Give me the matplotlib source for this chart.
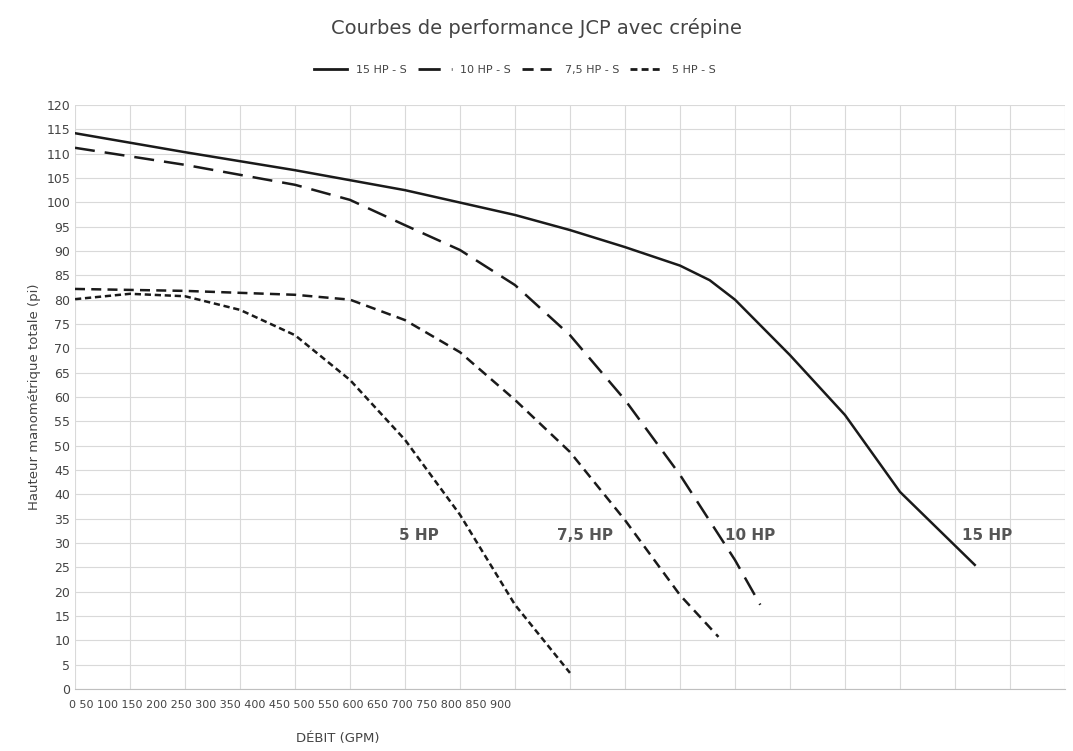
import matplotlib
matplotlib.use("Agg")
import matplotlib.pyplot as plt
from matplotlib.lines import Line2D

x15 = [0, 100, 200, 300, 400, 450, 500, 550, 577, 600, 650, 700, 750, 818]
y15 = [114.2, 110.3, 106.6, 102.5, 97.4, 94.3, 90.8, 87, 84, 80, 68.6, 56.3, 40.5, 25.5]
x10 = [0, 100, 200, 250, 300, 350, 400, 450, 500, 550, 600, 623]
y10 = [111.2, 107.7, 103.6, 100.5, 95.3, 90.2, 83, 72.7, 59.4, 44, 26.5, 17.3]
x75 = [0, 100, 200, 250, 300, 350, 400, 450, 500, 550, 585]
y75 = [82.2, 81.8, 81, 80, 75.8, 69.2, 59.4, 48.7, 34.7, 19.3, 10.7]
x5 = [0, 50, 100, 150, 200, 250, 300, 350, 400, 450]
y5 = [80.1, 81.2, 80.7, 77.9, 72.7, 63.5, 51.2, 35.8, 17.3, 3.3]
series_labels = ["15 HP - S", "10 HP - S", "7,5 HP - S", "5 HP - S"]
curve_names = ["15 HP", "10 HP", "7,5 HP", "5 HP"]
xtick_text = "0 50 100 150 200 250 300 350 400 450 500 550 600 650 700 750 800 850 900"

fig = plt.figure(figsize=(10.73, 7.51), dpi=100)
ax = fig.add_axes([0.0699, 0.0826, 0.9226, 0.7776])
c = "#1a1a1a"
ax.plot(x15, y15, color=c, lw=1.8, ls="-")
ax.plot(x10, y10, color=c, lw=1.8, dashes=(8, 4))
ax.plot(x75, y75, color=c, lw=1.8, dashes=(4, 2.5))
ax.plot(x5, y5, color=c, lw=1.8, dashes=(2.5, 1.5))

ax.set_xlim(0, 900)
ax.set_ylim(0, 120)
ax.set_xticks(range(0, 901, 50))
ax.set_xticklabels([])
ax.set_yticks(range(0, 121, 5))
ax.tick_params(length=0, labelsize=9, colors="#444444")
ax.grid(True, color="#d9d9d9", lw=0.8)
for s in ["top", "right", "left"]:
    ax.spines[s].set_visible(False)
ax.spines["bottom"].set_color("#bfbfbf")
ax.set_ylabel("Hauteur manométrique totale (pi)", fontsize=9.5, color="#444444")

fig.text(0.0645, 0.068, xtick_text, fontsize=8, color="#444444", va="top", ha="left")
fig.text(0.315, 0.012, "DÉBIT (GPM)", fontsize=9.5, color="#444444", ha="center")
fig.text(0.5, 0.955, "Courbes de performance JCP avec crépine", fontsize=14, color="#444444", ha="center")

for name, (xp, yp) in zip(curve_names, [(806, 30), (591, 30), (438, 30), (295, 30)]):
    ax.text(xp, yp, name, fontsize=11, fontweight="bold", color="#555555", va="bottom")

handles = [Line2D([], [], color=c, lw=2, ls="-"),
           Line2D([], [], color=c, lw=2, dashes=(8, 4)),
           Line2D([], [], color=c, lw=2, dashes=(4, 2.5)),
           Line2D([], [], color=c, lw=2, dashes=(2.5, 1.5))]
fig.legend(handles, series_labels, loc="center", bbox_to_anchor=(0.48, 0.907), ncol=4,
           frameon=False, fontsize=8, handlelength=3, columnspacing=1.0, labelcolor="#444444")

fig.savefig("out.png", dpi=100)
